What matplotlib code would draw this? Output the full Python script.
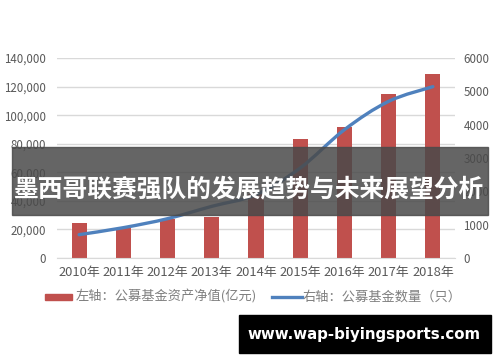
import matplotlib
matplotlib.use("Agg")
import matplotlib.pyplot as plt
from matplotlib.path import Path
from matplotlib.patches import PathPatch, Rectangle
import numpy as np

plt.rcParams['font.family'] = ['Noto Sans CJK SC', 'DejaVu Sans']

years = ['2010年', '2011年', '2012年', '2013年', '2014年', '2015年', '2016年', '2017年', '2018年']
assets = [24500, 21000, 27500, 28700, 44500, 83000, 91500, 115000, 129000]
counts = [700, 910, 1180, 1550, 1900, 2700, 3850, 4700, 5140]
left_ticks = [0, 20000, 40000, 60000, 80000, 100000, 120000, 140000]
right_ticks = [0, 1000, 2000, 3000, 4000, 5000, 6000]
title = '墨西哥联赛强队的发展趋势与未来展望分析'
legend_bar = '左轴：公募基金资产净值(亿元)'
legend_line = '右轴：公募基金数量（只）'
watermark = 'www.wap-biyingsports.com'

W, H = 500, 362
fig = plt.figure(figsize=(W/100, H/100), dpi=100)
fig.patch.set_facecolor('white')
ax = fig.add_axes([57/W, (H-258)/H, (455-57)/W, 200/H])
x = np.arange(len(years))
tick_col = '#595959'

ax.bar(x, assets, width=0.34, color='#C0504D', zorder=2)
ax.set_xlim(-0.5, len(years)-0.5)
ax.set_ylim(0, 140000)
ax.set_yticks(left_ticks)
ax.set_yticklabels([f'{v:,}' for v in left_ticks])
ax.set_xticks(x)
ax.set_xticklabels(years)
ax.grid(axis='y', color='#D9D9D9', linewidth=1, zorder=0)
ax.set_axisbelow(True)
for s in ['top', 'right', 'left']:
    ax.spines[s].set_visible(False)
ax.spines['bottom'].set_color('#D9D9D9')
ax.tick_params(axis='both', length=0, colors=tick_col)
ax.tick_params(axis='x', pad=6, labelsize=9.3)
ax.tick_params(axis='y', pad=8, labelsize=8.3)

ax2 = ax.twinx()
ax2.set_ylim(0, 6000)
ax2.set_yticks(right_ticks)
ax2.set_yticklabels([str(v) for v in right_ticks])
for s in ax2.spines.values():
    s.set_visible(False)
ax2.tick_params(axis='y', length=0, labelsize=8.3, colors=tick_col, pad=6)

# smooth line (Catmull-Rom to Bezier) through data points
pts = np.column_stack([x, counts]).astype(float)
verts = [tuple(pts[0])]
codes = [Path.MOVETO]
n = len(pts)
for i in range(n-1):
    p0 = pts[max(i-1, 0)]; p1 = pts[i]; p2 = pts[i+1]; p3 = pts[min(i+2, n-1)]
    c1 = p1 + (p2 - p0)/6.0
    c2 = p2 - (p3 - p1)/6.0
    verts += [tuple(c1), tuple(c2), tuple(p2)]
    codes += [Path.CURVE4]*3
ax2.add_patch(PathPatch(Path(verts, codes), facecolor='none', edgecolor='#4F81BD',
                        linewidth=2.4, capstyle='round', zorder=3))

# legend
ly = 297
fig.patches.append(Rectangle((45/W, (H-ly-3)/H), 27/W, 6/H, transform=fig.transFigure,
                             color='#C0504D'))
fig.text(76/W, (H-ly)/H, legend_bar, fontsize=9.5, color='#7F7F7F', va='center', ha='left')
fig.add_artist(plt.Line2D([272/W, 302/W], [(H-ly)/H]*2, color='#4F81BD', linewidth=2.4,
                          transform=fig.transFigure))
fig.text(303/W, (H-ly)/H, legend_line, fontsize=9.5, color='#7F7F7F', va='center', ha='left')

# banner overlay
fig.patches.append(Rectangle((12/W, (H-215)/H), 476/W, 68/H, transform=fig.transFigure,
                             color='#4A4A4A', alpha=0.85, zorder=10))
fig.text(249/W, (H-189)/H, title, fontsize=17.8, fontweight='bold', color='white',
         ha='center', va='center', zorder=11)

# watermark
fig.patches.append(Rectangle((239/W, (H-353)/H), 252/W, 38/H, transform=fig.transFigure,
                             color='black', zorder=10))
fig.text(364/W, (H-334)/H, watermark, fontsize=10.8, fontweight='bold', color='white',
         ha='center', va='center', family='DejaVu Sans', zorder=11)

fig.savefig('out.png', dpi=100, facecolor='white')
